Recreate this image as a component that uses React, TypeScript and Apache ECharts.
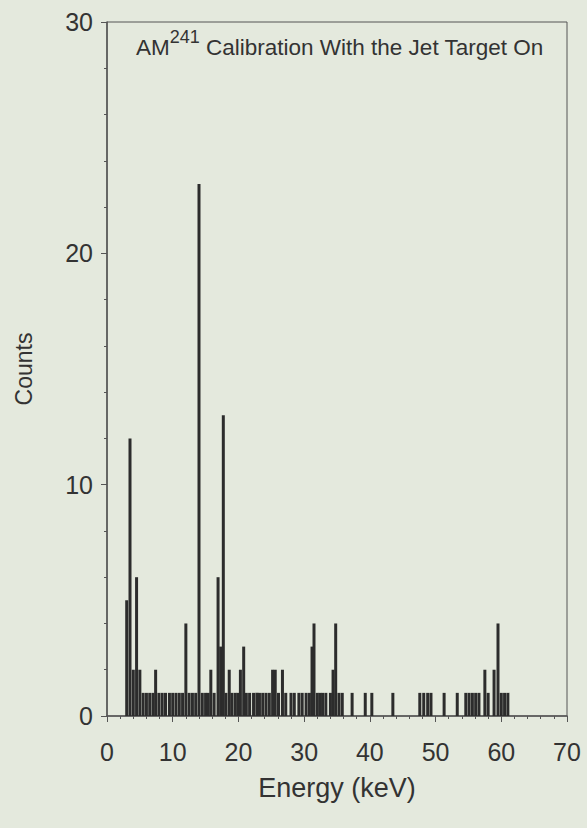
import React, { useEffect, useRef } from "react";
import * as echarts from "echarts";

// Histogram bins (energy in keV) and counts
const energies: number[] = [
  3.0, 3.5, 4.0, 4.5, 5.0, 5.5, 6.0, 6.5, 7.0, 7.4, 7.9, 8.4, 8.9, 9.5, 10.0, 10.5, 11.0, 11.5,
  12.0, 12.5, 13.0, 13.5, 14.0, 14.5, 15.0, 15.4, 15.8, 16.3, 16.9, 17.3, 17.7, 18.1, 18.6, 19.0,
  19.5, 19.9, 20.3, 20.8, 21.2, 21.7, 22.3, 22.8, 23.2, 23.7, 24.2, 24.7, 25.2, 25.6, 26.1, 26.7,
  27.2, 28.0, 28.5, 29.2, 29.7, 30.3, 30.8, 31.2, 31.5, 32.0, 32.4, 32.8, 33.3, 34.0, 34.4, 34.8,
  35.3, 35.8, 37.3, 39.3, 40.3, 43.5, 47.6, 48.2, 48.8, 49.3, 51.3, 53.3, 54.6, 55.1, 55.6, 56.1,
  56.6, 57.5, 58.0, 58.9, 59.5, 60.0, 60.5, 61.0,
];
const counts: number[] = [
  5, 12, 2, 6, 2, 1, 1, 1, 1, 2, 1, 1, 1, 1, 1, 1, 1, 1,
  4, 1, 1, 1, 23, 1, 1, 1, 2, 1, 6, 3, 13, 1, 2, 1,
  1, 1, 2, 3, 1, 1, 1, 1, 1, 1, 1, 1, 2, 2, 1, 2,
  1, 1, 1, 1, 1, 1, 1, 3, 4, 1, 1, 1, 1, 1, 2, 4,
  1, 1, 1, 1, 1, 1, 1, 1, 1, 1, 1, 1, 1, 1, 1, 1,
  1, 2, 1, 2, 4, 1, 1, 1,
];
const xTicks = { min: 0, max: 70, interval: 10 };
const yTicks = { min: 0, max: 30, interval: 10 };
const xName = "Energy (keV)";
const yName = "Counts";
const labelMain = "AM";
const labelSup = "241";
const labelRest = " Calibration With the Jet Target On";

export default function App() {
  const ref = useRef<HTMLDivElement>(null);
  useEffect(() => {
    document.body.style.margin = "0";
    if (!ref.current) return;
    const chart = echarts.init(ref.current, undefined, { renderer: "svg" });
    const font = "Liberation Sans, Arial, Helvetica, sans-serif";
    const txt = "#333333";
    const axisCol = "#555555";
    chart.setOption({
      animation: false,
      backgroundColor: "#e4e9dd",
      textStyle: { fontFamily: font },
      grid: {
        left: 107,
        right: 20,
        top: 22,
        bottom: 112,
        show: true,
        borderColor: axisCol,
        borderWidth: 1,
        backgroundColor: "transparent",
      },
      xAxis: {
        type: "value",
        min: xTicks.min,
        max: xTicks.max,
        interval: xTicks.interval,
        name: xName,
        nameLocation: "middle",
        nameGap: 58,
        nameTextStyle: { fontSize: 27, color: txt, fontFamily: font },
        axisLine: { show: true, onZero: false, lineStyle: { color: axisCol, width: 1.5 } },
        axisTick: { show: true, length: 6, inside: false, lineStyle: { color: axisCol } },
        minorTick: { show: true, splitNumber: 5, length: 3, lineStyle: { color: axisCol } },
        splitLine: { show: false },
        axisLabel: { fontSize: 25, color: txt, margin: 23, fontFamily: font },
      },
      yAxis: {
        type: "value",
        min: yTicks.min,
        max: yTicks.max,
        interval: yTicks.interval,
        name: yName,
        nameLocation: "middle",
        nameRotate: 90,
        nameGap: 72,
        nameTextStyle: { fontSize: 23, color: txt, fontFamily: font },
        axisLine: { show: true, onZero: false, lineStyle: { color: axisCol, width: 1.5 } },
        axisTick: { show: true, length: 6, inside: false, lineStyle: { color: axisCol } },
        minorTick: { show: true, splitNumber: 5, length: 3, lineStyle: { color: axisCol } },
        splitLine: { show: false },
        axisLabel: { fontSize: 25, color: txt, margin: 14, fontFamily: font },
      },
      graphic: [
        {
          type: "text",
          left: 136,
          top: 28,
          style: {
            text: `{a|${labelMain}}{s|${labelSup}}{a|${labelRest}}`,
            rich: {
              a: { fontSize: 22.5, fill: txt, fontFamily: font, verticalAlign: "bottom", lineHeight: 31 },
              s: { fontSize: 18, fill: txt, fontFamily: font, verticalAlign: "top", lineHeight: 31, padding: [0, 0, 12, 0] },
            },
          },
        },
      ],
      series: [
        {
          type: "bar",
          data: energies.map((e, i) => [e, counts[i]]),
          barWidth: 3,
          itemStyle: { color: "#2c2c2c" },
          emphasis: { disabled: true },
        },
      ],
    });
    return () => chart.dispose();
  }, []);
  return <div ref={ref} style={{ width: 587, height: 828 }} />;
}
